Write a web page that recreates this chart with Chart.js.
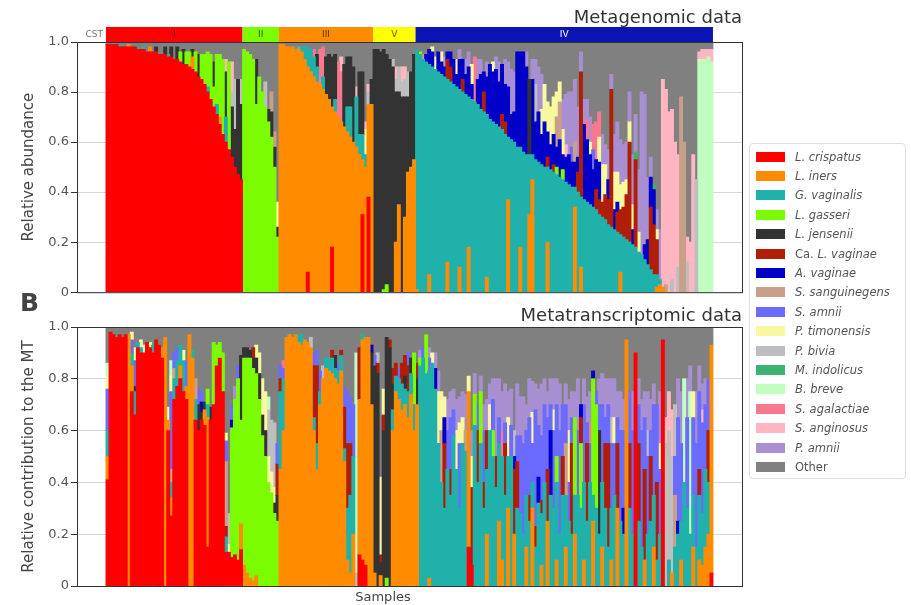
<!DOCTYPE html>
<html>
<head>
<meta charset="utf-8">
<script src="https://cdn.jsdelivr.net/npm/chart.js@4.4.1/dist/chart.umd.min.js"></script>
<style>
  body { margin: 0; background: #fff; width: 911px; height: 605px; position: relative; overflow: hidden; font-family: "DejaVu Sans", sans-serif; }
  canvas { position: absolute; left: 0; }
  #mg { top: 0; }
  #mt { top: 302px; }
  #panelB { position: absolute; left: 20px; top: 288px; font-size: 25px; font-weight: bold; color: #444; }
  #legend { position: absolute; left: 749px; top: 143px; width: 157px; height: 336px; border: 1px solid #ddd; border-radius: 4px; box-sizing: border-box; padding: 3px 0 0 6px; }
  .item { height: 19.4px; display: flex; align-items: center; font-size: 11.5px; color: #555; white-space: nowrap; }
  .sw { width: 29px; height: 10px; margin-right: 10px; flex: none; }
</style>
</head>
<body>
<canvas id="mg" width="750" height="302"></canvas>
<canvas id="mt" width="750" height="303"></canvas>
<div id="panelB">B</div>
<div id="legend"></div>
<script>
// species, in stacking order (bottom to top); code letter used in the sample strings
const speciesNames = ['L. crispatus', 'L. iners', 'G. vaginalis', 'L. gasseri', 'L. jensenii', 'Ca. L. vaginae', 'A. vaginae',
  'S. sanguinegens', 'S. amnii', 'P. timonensis', 'P. bivia', 'M. indolicus', 'B. breve', 'S. agalactiae', 'S. anginosus', 'P. amnii'];
const speciesCodes = 'abcdefghijklmnop';
const speciesColors = ['#ff0000', '#ff8c00', '#20b2aa', '#7cfc00', '#333333', '#b01e08', '#0000c8',
  '#c8a08a', '#6b6bff', '#f8f8a0', '#bebebe', '#3cb371', '#c1ffc1', '#f87890', '#ffb6c1', '#a88fd2'];
const otherColor = '#808080';

const cstNames = ['I', 'II', 'III', 'V', 'IV'];
const cstColors = ['#ff0000', '#7cfc00', '#ff8c00', '#ffff00', '#0a14b4'];
const cstText = ['#5a0000', '#2d5a00', '#5a3000', '#5a5a00', '#ffffff'];

const yTicks = [0, 0.2, 0.4, 0.6, 0.8, 1.0];

// metagenomic abundance per sample (percent), grouped by CST; remainder is "Other"
const mgCstI = [
  'a99', 'a99', 'a99', 'a99', 'a98 c1', 'a98', 'a98', 'a98 b1', 'a98', 'a97 f1',
  'a97', 'a97', 'a97 c1', 'a96', 'a96 b2', 'a96', 'a96 e2', 'a95', 'a95', 'a95 e3',
  'a94 c1', 'a94 e4', 'a93', 'a93 e5', 'a92 d4', 'a91 e6', 'a91 d5', 'a90 d6', 'a89 b5 e3', 'a88 d8',
  'a86 e9', 'a85 d10', 'a83 d12', 'a80 d14 c2', 'a77 d18', 'a74 d8 e10', 'a71 c4 d20', 'a67 b3 d25', 'a63 d30', 'a60 c10 e18 o5',
  'a57 d35', 'a54 e20 o12 k6', 'a50 k20 e15', 'a47 e38', 'a45 k10 e30'
];
const mgCstII = ['d97', 'd96', 'd95', 'd93', 'd75 e18', 'd86', 'd80', 'd74 k10', 'd68 e5', 'd62 h8 e10', 'd50 e8 h6', 'd22 e4 j10'];
const mgCstIII = [
  'b99', 'b99', 'b98', 'b98', 'b98', 'b97 c1', 'b97 n1', 'b96 c2', 'b93 c5', 'a8 b82 c8',
  'b88 c9', 'b86 c8 n3', 'b84 c6 e5', 'b83 n14', 'b81 c5 n12', 'b79 e15', 'b77 e18', 'a18 b56 e20', 'b72 c5 e18', 'b70 n22',
  'b68 n20 o6', 'b66 e25', 'b64 c10 e20', 'b62 c12 e20', 'b60 e30', 'b58 c20 o4', 'b55 c8 e25', 'a31 b22 c10 e25', 'b50 j10 c5 o3', 'a38 b37 k5 o3',
  'b75 e10'
];
const mgCstV = ['e97', 'e97', 'e96', 'd1 e96', 'd3 e92', 'e93', 'e90 k3', 'b20 e60 o5 k5', 'b35 e45 k10', 'e78 o6 k6', 'b30 e48 o5 k7', 'b48 e30 k10', 'b50 e38', 'b53 e42'];
const mgCstIV = [
  'b1 c96', 'c95 d1', 'c93 h2', 'c92 g3', 'b7 c84 g6', 'c90 g6 j2', 'c89 j5', 'c88 g8', 'c87 g5 j4', 'c86 g4 p4',
  'b12 c73 f8 g3', 'c84 f6 g6', 'c83 g10', 'c82 j6 g5', 'b10 c71 g12 p4', 'c80 f5 g8', 'c79 g8 p6', 'b18 c60 g12 p6', 'c77 j8 g6', 'c76 n18',
  'c75 g10 p8', 'c73 g14 p6', 'c72 f8 g8', 'b6 c65 g15 p6', 'c69 g22', 'c68 g20 j4', 'c67 g22 p5', 'c66 g18 p8', 'c65 f6 g20', 'c63 f5 g15 p10',
  'b37 c25 g20 p10', 'c61 g10 p18', 'c60 g12 p16', 'c58 g38', 'b18 c40 g38', 'c56 g40', 'c55 g35 p6', 'b31 c24 e30', 'b45 c10 g30 p8', 'c53 g15 k15 p10',
  'c52 g20 p18', 'c51 g12 j10 p14', 'c50 j15 g18', 'b20 c30 g10 j12 f4', 'c49 g10 j15', 'c48 f3 g12 j15', 'c47 d3 g8 j10 h12', 'c46 g15 j8 h15', 'c45 d4 g6 j10 p12', 'c44 g10 o5 p20',
  'c43 g12 p25', 'c42 i6 g10 p22', 'b34 c8 g10 p25 h8', 'c40 g6 f8 p20', 'b10 c28 f50 p8', 'c37 g30 p10', 'c36 g25 n8 p8', 'c35 g20 j5 p10', 'c34 i8 g15 n10', 'c33 f8 g12 n15',
  'c31 f6 g15 j10 n10', 'c30 f6 j15 p12', 'c29 f10 j12 p8', 'c27 f10 g8 p12', 'c26 f55 p6', 'c25 g8 j15 p15', 'c24 g4 j12 f8 p20', 'b8 c15 f10 j10 p18', 'c22 f12 j10 p15', 'c21 f18 j6 p15',
  'c20 f40 j8 p12', 'c19 g6 j10 p20', 'c18 f35 l3 p15', 'c16 j8 p25', 'c15 p65', 'c13 g6 p60', 'c11 g10 p25', 'c9 f25 g12 p8', 'c7 f20 g14 l2', 'b2 c5 f14 j4 p8',
  'b3 c2 p20', 'b2 o83', 'h3 o78', 'o72', 'k5 o68', 'o60', 'k10 o45', 'h78', 'h60', 'k12 o10',
  'o20', 'o55', 'k45', 'm93 o3', 'm93 o4', 'm93 o4', 'm94 o3', 'm92 o5'
];

// metatranscriptomic contribution per sample (percent), same sample order
const mtCstI = [
  'a41 b9 c10 i16 j5 m5', 'a98', 'a97', 'a96 c1', 'a97', 'a96', 'a97', 'b97', 'a75 b10 c5 i5 j3', 'a66 c9 e2 i10 j5',
  'a92 c2', 'a90 c2 j3', 'a90 m3', 'a94', 'a92 j2', 'a90 c3 l2', 'a95', 'a93', 'a88 b4', 'b96',
  'a60 b4 j5', 'a27 b7 c6 h5 i30 j6 m6', 'a72 c8 h4 i6', 'a77 c10 i5', 'a80 b5 c8', 'a75 c12 j4', 'a72 b5 i10', 'b97', 'b88 c3', 'a64 c8 h8',
  'a60 e10 i6', 'a64 e3 g4 i4', 'a62 b6 e3', 'a15 b50 c5 d6', 'a64 e5', 'a70 d24', 'a85 d8', 'a88 d6', 'a75 d15', 'a13 c6 f4 h25 i8 j3',
  'a13 j3 k12', 'a11 d50 g3 i6', 'a12 d60 p5', 'a10 d70 i5', 'a14 b10 d40 e25'
];
const mtCstII = ['b8 d80 e4', 'b5 d83 e4', 'b3 d85 e3', 'b2 d82 e4 f4', 'b4 d78 e6 j5', 'd72 e10 j8', 'd58 e8 j14', 'd50 e10 j15', 'd40 j10 k18 m5', 'd36 j8 k20', 'd28 e4 j6 k25', 'd25 e10 f12 i8'];
const mtCstIII = [
  'b45 c30 f5 i5', 'b60 c20 i4 n3', 'b96', 'b97', 'b96', 'b97', 'b94 c3', 'b93 c4', 'b95', 'b94',
  'b92 k4', 'b60 c5 f20 i5', 'b45 c10 f30 i6', 'b70 c5 i8', 'b80 k5', 'b84 c4', 'b83 c5', 'b82 c6 f3', 'b80 c4 e5', 'b78 c5 i3',
  'b83 c6 f2', 'b48 c5 f16 i8', 'b10 c20 f25 i20', 'b5 c30 f20 i18', 'b20 c30 i20', 'k5 m85', 'a12 b60 f20', 'a10 b85 c2', 'a8 b88', 'b96',
  'b70 e20 g3'
];
const mtCstV = ['b5 e80 i4', 'e82 f4 k4', 'b4 e5 f3 j30', 'e60 f6 j10', 'd3 e93', 'e92 f3', 'b60 c8 e10 f6', 'b75 c6 f5', 'b72 c8 i4', 'b68 c10 f8', 'b70 c6 e5 f8', 'b65 c10 f10 i5', 'b74 c8 e6', 'b60 c10 d20'];
const mtCstIV = [
  'b70 e10 f6', 'c85 d3 p3', 'c88 i4', 'c82 d15', 'b3 c80 i5 p4', 'c86 j4', 'c76 g8 p6', 'c55 j20 p8', 'c40 h20 j15', 'c30 f25 g10 j8',
  'c45 i15 p12', 'c35 f10 i20 p10', 'c58 i10 p8', 'c45 j15 p12', 'c30 i25 j8 p10', 'c55 j10 p10', 'c52 h8 p14', 'a15 b60 j6', 'a8 f30 j12 p10', 'c62 d12 p8',
  'c40 f20 i10', 'c55 d20 p6', 'c30 f10 i20 p10', 'b20 c25 f15 p12', 'c60 j10 p8', 'c50 d10 i12 p8', 'c38 f12 p30', 'b25 c30 i10 p15', 'b10 c40 n10 p15', 'c35 f20 i8 p15',
  'b30 c20 j15 p10', 'c50 i12 p14', 'b20 f25 g5 k10', 'c30 f18 i10 p20', 'c28 i30 p15', 'c20 i35 p18', 'b15 c20 i25 p10', 'c25 f10 i30 p15', 'b30 c10 i15 j12 p12', 'c15 f8 i45 p10',
  'c32 g10 i20 p14', 'b8 c20 f5 i25 p20', 'c40 i30 p10', 'b25 f20 i20 p10', 'c35 g25 i10 p10', 'c30 i30 j8 p12', 'b10 c30 d10 i20 p10', 'c20 i40 p18', 'c35 f15 i20', 'b15 c20 h20 i15 p8',
  'c25 i15 j20 p12', 'c20 f35 i10 p10', 'b20 c15 d30 p10', 'c35 i25 p20', 'c30 d25 f10 g5', 'b10 c30 i30 p10', 'c25 f30 i8 p10', 'c40 i15 n8 p12', 'b25 c10 d45 g3', 'c30 d40 i5',
  'c20 e40 i10 p10', 'b15 c25 i30 p12', 'c30 f25 i10 p15', 'c15 f40 i15 p10', 'b10 c20 i25 k10 p15', 'c35 i20 j10 p15', 'b30 f25 i10 p10', 'c25 i35 p15', 'c20 g10 i30 p12', 'b95',
  'c30 f25 i20', 'c20 i40 p15', 'a90', 'c25 f30 i15 p10', 'c15 i45 p12', 'b10 f35 i20 p10', 'c20 i30 k10 p15', 'c25 f25 i10 p12', 'b15 c20 i35 p8', 'c10 f30 i30',
  'c20 i25 j10 p20', 'a95', 'k55 o10', 'c10 k50 o15', 'b5 k45 o18', 'c15 h20 i15 k20', 'c20 g5 i40 p15', 'b10 c15 i30 p20', 'c40 m40', 'c30 i35 p15',
  'c20 m55 p10', 'b15 c20 i30 j10', 'c15 i40 p20', 'b10 c25 f10 i30 p10', 'b8 c20 i35 o5 p10', 'b15 c30 i25 p10', 'b20 c20 f20 i20', 'a5 b88'
];

const mgGroups = [mgCstI, mgCstII, mgCstIII, mgCstV, mgCstIV];
const mtGroups = [mtCstI, mtCstII, mtCstIII, mtCstV, mtCstIV];

function parseSample(str) {
  var out = {};
  str.split(' ').forEach(function (t) { out[t[0]] = +t.slice(1); });
  return out;
}

function buildDatasets(groups) {
  var parsed = [].concat.apply([], groups).map(parseSample);
  var sets = speciesCodes.split('').map(function (code, s) {
    return {
      label: speciesNames[s],
      backgroundColor: speciesColors[s],
      data: parsed.map(function (p, i) { return p[code] ? { x: i, y: p[code] / 100 } : null; }).filter(Boolean)
    };
  });
  sets.push({
    label: 'Other',
    backgroundColor: otherColor,
    data: parsed.map(function (p, i) {
      var sum = 0;
      for (var k in p) sum += p[k];
      return { x: i, y: Math.max(0, 100 - sum) / 100 };
    })
  });
  return sets;
}

const nSamples = [].concat.apply([], mgGroups).length;

// box, titles and the CST band drawn on top of the bars
const panelDeco = {
  id: 'panelDeco',
  afterDraw: function (chart, args, opts) {
    var ctx = chart.ctx, a = chart.chartArea, xs = chart.scales.x;
    ctx.save();
    ctx.strokeStyle = '#333';
    ctx.lineWidth = 1;
    ctx.strokeRect(a.left + 0.5, a.top + 0.5, a.right - a.left - 1, a.bottom - a.top);

    ctx.fillStyle = '#333';
    ctx.font = '18px "DejaVu Sans"';
    ctx.textAlign = 'right';
    ctx.textBaseline = 'alphabetic';
    ctx.fillText(opts.title, 742, opts.titleY);

    ctx.fillStyle = '#444';
    ctx.font = '15px "DejaVu Sans"';
    ctx.textAlign = 'center';
    ctx.save();
    ctx.translate(29, (a.top + a.bottom) / 2);
    ctx.rotate(-Math.PI / 2);
    ctx.textBaseline = 'middle';
    ctx.fillText(opts.yTitle, 0, 0);
    ctx.restore();

    if (opts.xTitle) {
      ctx.font = '13px "DejaVu Sans"';
      ctx.textBaseline = 'middle';
      ctx.fillText(opts.xTitle, 383, a.bottom + 12);
    }

    if (opts.band) {
      var start = 0;
      ctx.font = '9px "DejaVu Sans"';
      ctx.textBaseline = 'middle';
      mgGroups.forEach(function (g, i) {
        var x0 = xs.getPixelForValue(start - 0.5), x1 = xs.getPixelForValue(start + g.length - 0.5);
        ctx.fillStyle = cstColors[i];
        ctx.fillRect(x0, 27, x1 - x0, a.top - 27);
        ctx.fillStyle = cstText[i];
        ctx.textAlign = 'center';
        ctx.fillText(cstNames[i], (x0 + x1) / 2, 34.5);
        start += g.length;
      });
      ctx.fillStyle = '#777';
      ctx.textAlign = 'right';
      ctx.fillText('CST', xs.getPixelForValue(-0.5) - 3, 35);
    }
    ctx.restore();
  }
};

function makePanel(id, groups, padding, deco) {
  new Chart(document.getElementById(id), {
    type: 'bar',
    data: { datasets: buildDatasets(groups) },
    plugins: [panelDeco],
    options: {
      responsive: false,
      animation: false,
      devicePixelRatio: 1,
      layout: { padding: padding },
      datasets: { bar: { barPercentage: 1, categoryPercentage: 1, borderWidth: 0, inflateAmount: 0.45 } },
      scales: {
        x: {
          type: 'linear', stacked: true, display: false, offset: false,
          min: -10.05, max: nSamples + 9.4
        },
        y: {
          stacked: true, min: 0, max: 1,
          afterFit: function (s) { s.width = 77; },
          afterBuildTicks: function (s) { s.ticks = yTicks.map(function (v) { return { value: v }; }); },
          grid: { color: '#d8d8d8', tickColor: '#333', tickLength: 6, drawTicks: true },
          border: { display: false },
          ticks: {
            padding: 2, color: '#555', font: { family: 'DejaVu Sans', size: 13 },
            callback: function (v) { return v === 0 ? '0' : v.toFixed(1); }
          }
        }
      },
      plugins: { legend: { display: false }, tooltip: { enabled: false }, panelDeco: deco }
    }
  });
}

makePanel('mg', mgGroups, { top: 42, right: 7, bottom: 2, left: 0 },
  { title: 'Metagenomic data', titleY: 23, yTitle: 'Relative abundance', band: true });
makePanel('mt', mtGroups, { top: 25, right: 7, bottom: 19, left: 0 },
  { title: 'Metatranscriptomic data', titleY: 19, yTitle: 'Relative contribution to the MT', xTitle: 'Samples' });

// legend
var legend = document.getElementById('legend');
speciesNames.concat(['Other']).forEach(function (name, i) {
  var item = document.createElement('div');
  item.className = 'item';
  var sw = document.createElement('span');
  sw.className = 'sw';
  sw.style.background = i < speciesColors.length ? speciesColors[i] : otherColor;
  var label = document.createElement('span');
  if (name.indexOf('Ca. ') === 0) {
    label.innerHTML = 'Ca. <i>' + name.slice(4) + '</i>';
  } else if (name === 'Other') {
    label.textContent = name;
  } else {
    label.innerHTML = '<i>' + name + '</i>';
  }
  item.appendChild(sw);
  item.appendChild(label);
  legend.appendChild(item);
});
</script>
</body>
</html>
